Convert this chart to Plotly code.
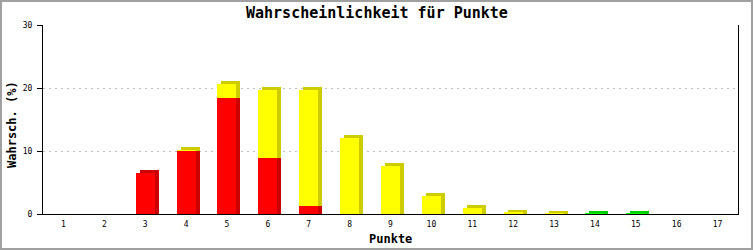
import plotly.graph_objects as go

# ---- data ----
categories = list(range(1, 18))
tick_labels = [str(c) for c in categories]
red_values = [0, 0, 6.5, 10.0, 18.4, 8.9, 1.3, 0, 0, 0, 0, 0, 0, 0, 0, 0, 0]
yellow_values = [0, 0, 0, 0.1, 2.2, 10.8, 18.4, 12.0, 7.6, 2.8, 1.0, 0.2, 0.04, 0, 0, 0, 0]
green_values = [0, 0, 0, 0, 0, 0, 0, 0, 0, 0, 0, 0, 0, 0.02, 0.01, 0, 0]
y_ticks = [0, 10, 20, 30]

series = [
    ("rot", red_values, "#ff0000", "#cc0000"),
    ("gelb", yellow_values, "#ffff00", "#cccc00"),
    ("grün", green_values, "#00ff00", "#00cc00"),
]

# ---- geometry (style) ----
W, H = 753, 250
ML, MR, MT, MB = 43, 15, 25, 36
plot_w = W - ML - MR
plot_h = H - MT - MB
x_range = [0.5, 17.5]
y_range = [0, 30]
px_per_x = plot_w / (x_range[1] - x_range[0])
px_per_y = plot_h / (y_range[1] - y_range[0])
bar_w = 19 / px_per_x
dx = 4 / px_per_x
dy = 3 / px_per_y

fig = go.Figure()
base = [0.0] * len(categories)
for name, vals, front, dark in series:
    depth_y = [(v + dy) if v > 0 else None for v in vals]
    fig.add_trace(go.Bar(
        x=categories, y=depth_y, base=base, width=bar_w, offset=-bar_w / 2 + dx,
        marker=dict(color=dark, line=dict(width=0)), showlegend=False, hoverinfo="skip",
    ))
    front_y = [v if v > 0 else None for v in vals]
    fig.add_trace(go.Bar(
        x=categories, y=front_y, base=base, width=bar_w, offset=-bar_w / 2,
        marker=dict(color=front, line=dict(width=0)), showlegend=False, name=name,
    ))
    base = [b + v for b, v in zip(base, vals)]

mono = "DejaVu Sans Mono"
fig.update_layout(
    width=W, height=H,
    margin=dict(l=ML, r=MR, t=MT, b=MB),
    paper_bgcolor="white", plot_bgcolor="white",
    barmode="overlay", bargap=0,
    xaxis=dict(
        range=x_range, tickmode="array", tickvals=categories, ticktext=tick_labels,
        showgrid=False, zeroline=False, showline=True, linecolor="black", linewidth=1,
        ticks="", tickfont=dict(family=mono, size=8, color="black"),
        ticklabelstandoff=2, fixedrange=True,
    ),
    yaxis=dict(
        range=y_range, tickmode="array", tickvals=y_ticks,
        showgrid=True, gridcolor="#c0c0c0", griddash="2px,4px", gridwidth=1,
        zeroline=False, showline=True, mirror=True, linecolor="black", linewidth=1,
        ticks="outside", ticklen=5, tickcolor="black", tickwidth=1,
        tickfont=dict(family=mono, size=8, color="black"),
        ticklabelstandoff=3, fixedrange=True,
    ),
    shapes=[dict(
        type="rect", xref="paper", yref="paper",
        x0=(1 - ML) / plot_w, x1=(W - 1 - ML) / plot_w,
        y0=(H - MB - (H - 1)) / plot_h, y1=(H - MB - 1) / plot_h,
        line=dict(color="#a0a0a0", width=2), fillcolor="rgba(0,0,0,0)", layer="above",
    )],
    annotations=[
        dict(text="<b>Wahrscheinlichkeit für Punkte</b>", xref="paper", yref="paper",
             x=(W / 2 - ML) / plot_w, y=(H - MB - 13) / plot_h,
             xanchor="center", yanchor="middle", showarrow=False,
             font=dict(family=mono, size=15, color="black")),
        dict(text="<b>Punkte</b>", xref="paper", yref="paper",
             x=0.5, y=(H - MB - 239) / plot_h,
             xanchor="center", yanchor="middle", showarrow=False,
             font=dict(family=mono, size=12, color="black")),
        dict(text="<b>Wahrsch. (%)</b>", xref="paper", yref="paper",
             x=(12 - ML) / plot_w, y=(H - MB - 125) / plot_h, textangle=-90,
             xanchor="center", yanchor="middle", showarrow=False,
             font=dict(family=mono, size=12, color="black")),
    ],
)

fig.write_html("out.html")
